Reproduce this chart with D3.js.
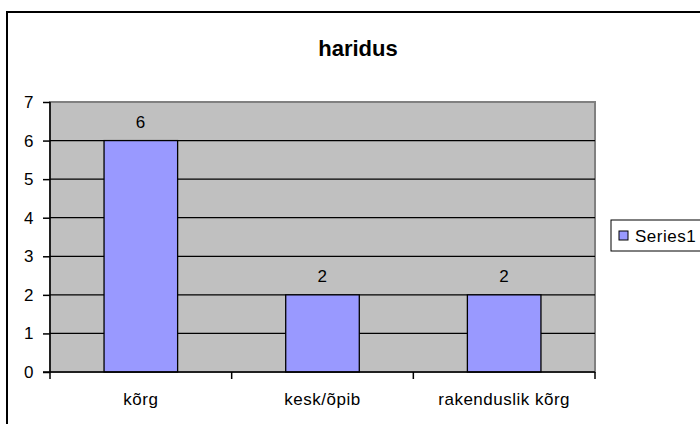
<!DOCTYPE html>
<meta charset="utf-8">
<style type="text/css">
  body { margin: 0; background: #fff; }
  svg { display: block; font-family: "Liberation Sans", Arial, sans-serif; }
  .lbl { font-size: 17px; letter-spacing: 0.5px; fill: #000; }
</style>
<body>
<script src="https://cdnjs.cloudflare.com/ajax/libs/d3/7.8.5/d3.min.js"></script>
<script>
// chart data
var categories = ["kõrg", "kesk/õpib", "rakenduslik kõrg"];
var values = [6, 2, 2];
var yTicks = [0, 1, 2, 3, 4, 5, 6, 7];
var seriesName = "Series1";
var title = "haridus";

var width = 700, height = 424;
var margin = {top: 102, right: 105, bottom: 52, left: 50};

var svg = d3.select("body").append("svg")
  .attr("width", width)
  .attr("height", height);

// outer chart border (runs off the right and bottom edges)
svg.append("rect")
  .attr("x", 7).attr("y", 12)
  .attr("width", 720).attr("height", 440)
  .attr("fill", "#fff")
  .attr("stroke", "#000")
  .attr("stroke-width", 2);

var x = d3.scaleBand()
  .domain(categories)
  .range([margin.left, width - margin.right])
  .paddingInner(0.595)
  .paddingOuter(0.2975);

var y = d3.scaleLinear()
  .domain([0, 7])
  .range([height - margin.bottom, margin.top]);

// plot area
svg.append("rect")
  .attr("x", margin.left).attr("y", y(7))
  .attr("width", width - margin.right - margin.left)
  .attr("height", y(0) - y(7))
  .attr("fill", "#c0c0c0")
  .attr("stroke", "#808080")
  .attr("stroke-width", 2);

// gridlines
svg.selectAll(".grid")
  .data(yTicks.filter(function(d){ return d > 0 && d < 7; }))
  .enter().append("line")
  .attr("x1", margin.left).attr("x2", width - margin.right)
  .attr("y1", function(d){ return y(d); })
  .attr("y2", function(d){ return y(d); })
  .attr("stroke", "#000")
  .attr("stroke-width", 1.3);

// bars
svg.selectAll(".bar")
  .data(values)
  .enter().append("rect")
  .attr("x", function(d, i){ return x(categories[i]); })
  .attr("y", function(d){ return y(d); })
  .attr("width", x.bandwidth())
  .attr("height", function(d){ return y(0) - y(d); })
  .attr("fill", "#9999ff")
  .attr("stroke", "#000")
  .attr("stroke-width", 1.3);

// value labels
svg.selectAll(".val")
  .data(values)
  .enter().append("text")
  .attr("class", "lbl")
  .attr("x", function(d, i){ return x(categories[i]) + x.bandwidth() / 2; })
  .attr("y", function(d){ return y(d) - 13; })
  .attr("text-anchor", "middle")
  .text(function(d){ return d; });

// y axis
var yAxis = svg.append("g")
  .attr("transform", "translate(" + margin.left + ",0)")
  .call(d3.axisLeft(y).tickValues(yTicks).tickFormat(d3.format("d")).tickSize(7).tickPadding(9));
yAxis.attr("font-size", null).attr("font-family", null);
yAxis.selectAll("text").attr("class", "lbl").attr("fill", "#000");
yAxis.selectAll("line, path").attr("stroke", "#000").attr("stroke-width", 1.5);
yAxis.select(".domain").attr("d", "M0," + y(7) + "V" + y(0));

// x axis: ticks at category boundaries
var bounds = [0, 1, 2, 3].map(function(i){
  return margin.left + i * (width - margin.right - margin.left) / 3;
});
svg.append("line")
  .attr("x1", margin.left - 7).attr("x2", width - margin.right)
  .attr("y1", y(0)).attr("y2", y(0))
  .attr("stroke", "#000").attr("stroke-width", 1.5);
svg.selectAll(".xtick")
  .data(bounds)
  .enter().append("line")
  .attr("x1", function(d){ return d; }).attr("x2", function(d){ return d; })
  .attr("y1", y(0)).attr("y2", y(0) + 7)
  .attr("stroke", "#000").attr("stroke-width", 1.5);
svg.selectAll(".xlab")
  .data(categories)
  .enter().append("text")
  .attr("class", "lbl")
  .attr("x", function(d){ return x(d) + x.bandwidth() / 2; })
  .attr("y", y(0) + 33)
  .attr("text-anchor", "middle")
  .text(function(d){ return d; });

// title
svg.append("text")
  .attr("x", 358).attr("y", 56)
  .attr("text-anchor", "middle")
  .style("font-size", "22px")
  .style("font-weight", "bold")
  .text(title);

// legend
var lg = svg.append("g").attr("transform", "translate(611,220)");
lg.append("rect")
  .attr("width", 100).attr("height", 31)
  .attr("fill", "#fff").attr("stroke", "#000").attr("stroke-width", 1);
lg.append("rect")
  .attr("x", 8).attr("y", 11)
  .attr("width", 9).attr("height", 9)
  .attr("fill", "#9999ff").attr("stroke", "#000").attr("stroke-width", 1);
lg.append("text")
  .attr("class", "lbl")
  .attr("x", 24).attr("y", 22)
  .text(seriesName);
</script>
</body>
